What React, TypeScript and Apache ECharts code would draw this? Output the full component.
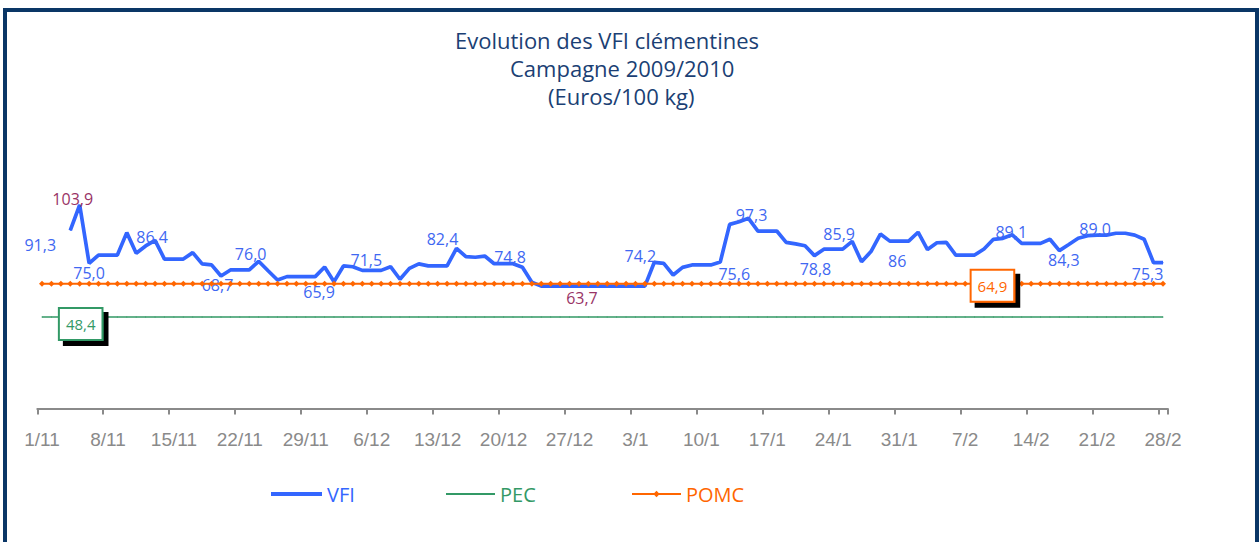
import React, { useEffect, useRef } from "react";
import * as echarts from "echarts";

// ---- categories: every day of the campaign, 1/11 .. 28/2
const monthOrder = [11, 12, 1, 2];
const monthDays = [30, 31, 31, 28];
const categories: string[] = [];
monthOrder.forEach((m, k) => {
  for (let d = 1; d <= monthDays[k]; d++) categories.push(d + "/" + m);
});

// ---- series values (Euros/100 kg)
const vfiValues: (number | null)[] = [
  null, null, null, 91.3, 103.9, 75.0, 79.1, 79.1, 79.1, 90.2,
  80.0, 83.6, 86.4, 77.1, 77.1, 77.1, 80.3, 74.7, 74.2, 68.7,
  71.7, 71.7, 71.7, 76.0, 71.3, 66.7, 68.4, 68.4, 68.4, 68.4,
  73.2, 65.9, 73.7, 73.3, 71.5, 71.5, 71.5, 73.3, 67.1, 72.5,
  74.7, 73.7, 73.7, 73.7, 82.4, 78.3, 78.0, 78.6, 74.8, 74.8,
  74.8, 73.0, 65.6, 63.7, 63.7, 63.7, 63.7, 63.7, 63.7, 63.7,
  63.7, 63.7, 63.7, 63.7, 63.7, 75.5, 75.0, 69.2, 73.0, 74.2,
  74.2, 74.2, 75.6, 94.3, 95.6, 97.3, 91.0, 91.0, 91.0, 85.4,
  84.6, 83.7, 78.8, 82.0, 82.0, 82.0, 85.9, 75.8, 80.8, 89.5,
  86.0, 86.0, 86.0, 90.4, 81.8, 85.2, 85.4, 79.1, 79.1, 79.1,
  82.1, 86.9, 87.4, 89.1, 84.9, 84.9, 84.9, 86.9, 81.3, 84.3,
  87.4, 88.7, 89.0, 89.0, 89.9, 89.9, 89.0, 86.9, 75.3, 75.3,
];
const pecValue = 48.4;
const pomcValue = 64.9;

// ---- annotations written on the chart
const vfiNoteIndex = [3, 4, 5, 12, 19, 23, 31, 34, 44, 50, 57, 65, 72, 75, 82, 86, 91, 103, 109, 112, 118];
const vfiNoteText = [
  "91,3", "103,9", "75,0", "86,4", "68,7", "76,0", "65,9", "71,5", "82,4", "74,8", "63,7",
  "74,2", "75,6", "97,3", "78,8", "85,9", "86", "89,1", "84,3", "89,0", "75,3",
];
const pecNoteIndex = 4;
const pecNoteText = "48,4";
const pomcNoteIndex = 101;
const pomcNoteText = "64,9";

// ---- styling
const noteOffsets: [number, number][] = [
  [-30, 15], [-7, -6], [0, 10], [-3, -3], [-3.5, 9], [-8, -7], [-15, 10], [4, -10], [-14, -9], [-3, -7], [3, 12],
  [-14, -6], [14, 12], [3, -3], [1, 13], [-13, -7], [-2, 20], [-1, -3], [-5, 15], [-2, -6], [-6, 11],
];
const purpleNotes = ["103,9", "63,7"];
const BLUE = "#3366FF";
const LABEL_BLUE = "#3F68F2";
const PURPLE = "#993366";
const GREEN = "#339966";
const ORANGE = "#FF6600";
const NAVY = "#1B3F74";
const GREY = "#8A8A8A";
const FONT = "Open Sans";

export default function App() {
  const ref = useRef<HTMLDivElement>(null);

  useEffect(() => {
    if (!ref.current) return;
    const chart = echarts.init(ref.current, undefined, { renderer: "svg" });

    const vfiData = vfiValues.map((v, i) => {
      const k = vfiNoteIndex.indexOf(i);
      if (k < 0) return v;
      return {
        value: v,
        label: {
          show: true,
          formatter: vfiNoteText[k],
          offset: noteOffsets[k],
          color: purpleNotes.indexOf(vfiNoteText[k]) >= 0 ? PURPLE : LABEL_BLUE,
        },
      };
    });

    const boxLabel = (text: string, color: string, offset: [number, number]) => ({
      show: true,
      formatter: text,
      position: "inside",
      offset,
      color,
      fontFamily: FONT,
      fontSize: 15,
      lineHeight: 18,
      backgroundColor: "#ffffff",
      borderColor: color,
      borderWidth: 2,
      padding: [6, 6, 6, 6],
      shadowColor: "#000000",
      shadowBlur: 0,
      shadowOffsetX: 5,
      shadowOffsetY: 5,
    });

    const pecData = categories.map((_, i) =>
      i === pecNoteIndex ? { value: pecValue, label: boxLabel(pecNoteText, GREEN, [1, 7]) } : pecValue
    );
    const pomcData = categories.map((_, i) =>
      i === pomcNoteIndex ? { value: pomcValue, label: boxLabel(pomcNoteText, ORANGE, [-1, 2]) } : pomcValue
    );

    const titleStyle = { color: NAVY, fontFamily: FONT, fontSize: 22, fontWeight: "normal" as const };

    chart.setOption({
      animation: false,
      backgroundColor: "#ffffff",
      title: [
        { text: "Evolution des VFI clémentines", left: 455, top: 29, padding: 0, textStyle: titleStyle },
        { text: "Campagne 2009/2010", left: 510, top: 57, padding: 0, textStyle: titleStyle },
        { text: "(Euros/100 kg)", left: 548, top: 85, padding: 0, textStyle: titleStyle },
      ],
      graphic: [
        {
          type: "rect",
          shape: { x: 5, y: 10, width: 1252, height: 600 },
          style: { fill: "none", stroke: "#0A3666", lineWidth: 4 },
          silent: true,
        },
      ],
      legend: [
        {
          left: 271, top: 484, padding: 0, itemWidth: 51, itemHeight: 4,
          data: [{ name: "VFI", icon: "rect" }],
          textStyle: { color: BLUE, fontFamily: FONT, fontSize: 20 },
        },
        {
          left: 446, top: 484, padding: 0, itemWidth: 49, itemHeight: 2,
          data: [{ name: "PEC", icon: "rect" }],
          textStyle: { color: GREEN, fontFamily: FONT, fontSize: 20 },
        },
        {
          left: 631, top: 484, padding: 0, itemWidth: 49, itemHeight: 8,
          data: ["POMC"],
          textStyle: { color: ORANGE, fontFamily: FONT, fontSize: 20 },
        },
      ],
      grid: { left: 37.3, right: 92.3, top: 192.7, bottom: 133.45 },
      xAxis: {
        type: "category",
        data: categories,
        boundaryGap: true,
        axisLine: { show: true, lineStyle: { color: GREY, width: 2 } },
        axisTick: {
          show: true,
          alignWithLabel: false,
          interval: 6,
          length: 6,
          lineStyle: { color: GREY, width: 2 },
        },
        axisLabel: { interval: 6, margin: 21, color: GREY, fontSize: 19, fontFamily: "Liberation Sans" },
        splitLine: { show: false },
      },
      yAxis: {
        type: "value",
        min: 3,
        max: 110,
        show: false,
        splitLine: { show: false },
      },
      series: [
        {
          name: "PEC",
          type: "line",
          data: pecData,
          symbol: "circle",
          symbolSize: 1,
          showSymbol: true,
          lineStyle: { color: GREEN, width: 1.6 },
          itemStyle: { color: GREEN },
          label: { show: false },
          z: 2,
          silent: true,
        },
        {
          name: "VFI",
          type: "line",
          data: vfiData,
          symbol: "circle",
          symbolSize: 1,
          showSymbol: true,
          lineStyle: { color: BLUE, width: 3.7 },
          itemStyle: { color: BLUE },
          label: {
            show: false,
            position: "inside",
            fontFamily: FONT,
            fontSize: 16,
          },
          z: 3,
          silent: true,
        },
        {
          name: "POMC",
          type: "line",
          data: pomcData,
          symbol: "diamond",
          symbolSize: 6,
          showSymbol: true,
          lineStyle: { color: ORANGE, width: 2 },
          itemStyle: { color: ORANGE },
          label: { show: false },
          z: 4,
          silent: true,
        },
      ],
    });

    return () => chart.dispose();
  }, []);

  return (
    <div
      ref={ref}
      style={{ position: "absolute", left: 0, top: 0, width: 1260, height: 542 }}
    />
  );
}
